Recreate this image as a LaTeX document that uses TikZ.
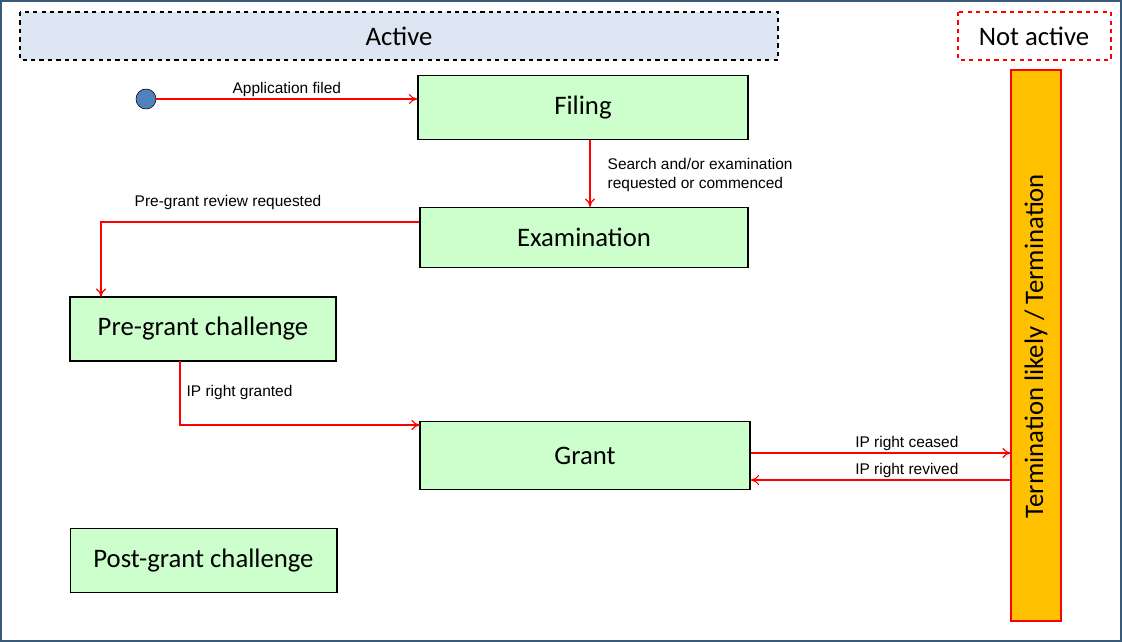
\documentclass[tikz,border=0pt]{standalone}
\usepackage{fontspec}
\setmainfont{Liberation Sans}
\newfontfamily\boxfont{Carlito}
\usetikzlibrary{arrows.meta}
\definecolor{boxg}{HTML}{CCFFCC}
\definecolor{hdr}{HTML}{DCE6F2}
\definecolor{bar}{HTML}{FFC000}
\definecolor{frame}{HTML}{3A5A7A}
\begin{document}
\begin{tikzpicture}[x=0.025cm,y=-0.025cm,
  st/.style={draw=black,fill=boxg,line width=0.8pt},
  big/.style={font=\boxfont\fontsize{19}{21}\selectfont},
  arr/.style={draw=red,line width=0.8pt,-{To[length=6pt,width=7pt]}},
  lbl/.style={font=\fontsize{11}{13}\selectfont,inner sep=1pt}]
\useasboundingbox (0,0) rectangle (1122,642);
\draw[frame,line width=1pt] (1,1) rectangle (1121,641);
\draw[dashed,line width=1.5pt,fill=hdr] (20,12) rectangle (778,60);
\node[big] (act) at (399,36) {Active};
\draw[dashed,draw=red,line width=1.5pt,fill=white] (958,12) rectangle (1111,60);
\node[big] (nact) at (1034,36) {Not active};
\draw[draw=red,line width=2pt,fill=bar] (1011,70) rectangle (1061,621);
\coordinate (term) at (1011,453);
\coordinate (termb) at (1011,480);
\node[big,rotate=90] (tl) at (1036,346) {Termination likely / Termination};
\node[st,big,minimum width=8.25cm,minimum height=1.62cm] (filing) at (583,107.5) {Filing};
\node[st,big,minimum width=8.2cm,minimum height=1.52cm] (exam) at (584,237.5) {Examination};
\node[st,big,minimum width=6.65cm,minimum height=1.6cm] (pre) at (203,329) {Pre-grant challenge};
\node[st,big,minimum width=8.25cm,minimum height=1.72cm] (grant) at (585,455.5) {Grant};
\node[st,big,minimum width=6.67cm,minimum height=1.62cm] (post) at (203.5,560.5) {Post-grant challenge};
\node[circle,draw=black,fill={rgb,255:red,79;green,129;blue,189},minimum size=0.5cm,inner sep=0] (start) at (146,99) {};
\draw[arr] (start) -- (filing.west |- start) node[midway,above,lbl] {Application filed};
\draw[arr] (590,140) -- (590,207);
\node[lbl,align=left,anchor=west] at (606,175) {Search and/or examination\\requested or commenced};
\draw[arr] (exam.west |- 0,222) -- (101,222) -- (101,297);
\node[lbl] at (228,203) {Pre-grant review requested};
\draw[arr] (180,361) -- (180,425) -- (420,425);
\node[lbl,anchor=west] at (185,392) {IP right granted};
\draw[arr] (grant.east |- term) -- (term) node[pos=0.6,above,lbl] {IP right ceased};
\draw[arr] (termb) -- (grant.east |- termb) node[pos=0.4,above,lbl] {IP right revived};
\end{tikzpicture}
\end{document}
